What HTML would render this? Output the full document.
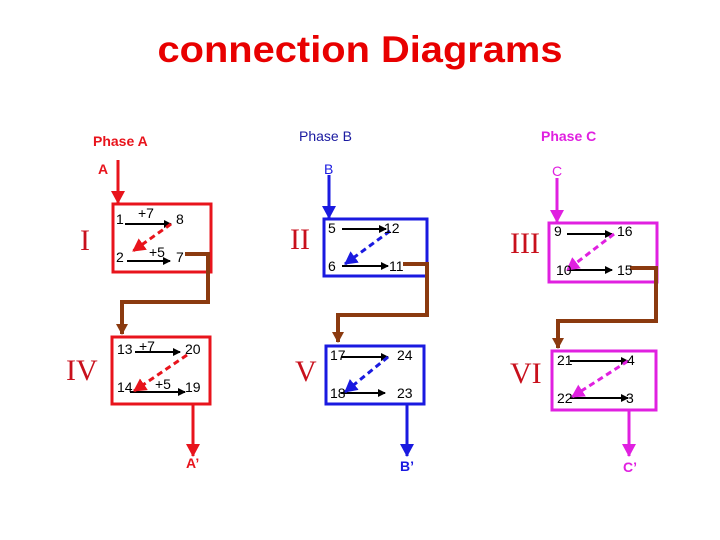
<!DOCTYPE html>
<html><head><meta charset="utf-8"><style>
html,body{margin:0;padding:0;background:#fff;}
svg{display:block;font-family:"Liberation Sans",Arial,sans-serif;}
</style></head><body>
<svg width="720" height="540" viewBox="0 0 720 540" xmlns="http://www.w3.org/2000/svg">
<defs>
<marker id="ab" markerWidth="8" markerHeight="8" refX="7" refY="4" orient="auto" markerUnits="userSpaceOnUse"><path d="M0,0 L8,4 L0,8 Z" fill="#000"/></marker>
<marker id="ar" markerWidth="14" markerHeight="14" refX="12" refY="7" orient="auto" markerUnits="userSpaceOnUse"><path d="M0,0 L13,7 L0,14 Z" fill="#e8141c"/></marker>
<marker id="abl" markerWidth="14" markerHeight="14" refX="12" refY="7" orient="auto" markerUnits="userSpaceOnUse"><path d="M0,0 L13,7 L0,14 Z" fill="#1a1ae0"/></marker>
<marker id="am" markerWidth="14" markerHeight="14" refX="12" refY="7" orient="auto" markerUnits="userSpaceOnUse"><path d="M0,0 L13,7 L0,14 Z" fill="#e020e0"/></marker>
<marker id="abr" markerWidth="12" markerHeight="12" refX="10" refY="6" orient="auto" markerUnits="userSpaceOnUse"><path d="M0,0 L11,6 L0,12 Z" fill="#8b3a0f"/></marker>
</defs>
<text x="360" y="62" text-anchor="middle" font-size="37" font-weight="bold" fill="#e80000" textLength="405" lengthAdjust="spacingAndGlyphs">connection Diagrams</text>

<g font-size="14">
<text x="93" y="146" fill="#e8141c" font-weight="bold">Phase A</text>
<text x="299" y="141" fill="#1a1aa0">Phase B</text>
<text x="541" y="141" fill="#e020e0" font-weight="bold">Phase C</text>
<text x="98" y="174" fill="#e8141c" font-weight="bold">A</text>
<text x="324" y="174" fill="#1a1ae0">B</text>
<text x="552" y="176" fill="#e020e0">C</text>
<text x="186" y="468" fill="#e8141c" font-weight="bold">A’</text>
<text x="400" y="471" fill="#1a1ae0" font-weight="bold">B’</text>
<text x="623" y="472" fill="#e020e0" font-weight="bold">C’</text>
</g>

<g font-family="Liberation Serif,serif" font-size="30" fill="#c8101c">
<text x="80" y="250">I</text>
<text x="290" y="249">II</text>
<text x="510" y="253">III</text>
<text x="66" y="380">IV</text>
<text x="295" y="381">V</text>
<text x="510" y="383">VI</text>
</g>

<!-- boxes -->
<rect x="113" y="204" width="98" height="68" fill="none" stroke="#e8141c" stroke-width="3"/>
<rect x="112" y="337" width="98" height="67" fill="none" stroke="#e8141c" stroke-width="3"/>
<rect x="324" y="219" width="103" height="57" fill="none" stroke="#1a1ae0" stroke-width="3"/>
<rect x="326" y="346" width="98" height="58" fill="none" stroke="#1a1ae0" stroke-width="3"/>
<rect x="549" y="223" width="108" height="59" fill="none" stroke="#e020e0" stroke-width="3"/>
<rect x="552" y="351" width="104" height="59" fill="none" stroke="#e020e0" stroke-width="3"/>

<!-- input/output arrows -->
<g stroke-width="3">
<line x1="118" y1="160" x2="118" y2="203" stroke="#e8141c" marker-end="url(#ar)"/>
<line x1="193" y1="405" x2="193" y2="456" stroke="#e8141c" marker-end="url(#ar)"/>
<line x1="329" y1="175" x2="329" y2="218" stroke="#1a1ae0" marker-end="url(#abl)"/>
<line x1="407" y1="405" x2="407" y2="456" stroke="#1a1ae0" marker-end="url(#abl)"/>
<line x1="557" y1="178" x2="557" y2="222" stroke="#e020e0" marker-end="url(#am)"/>
<line x1="629" y1="411" x2="629" y2="456" stroke="#e020e0" marker-end="url(#am)"/>
</g>

<!-- brown connectors -->
<g fill="none" stroke="#8b3a0f" stroke-width="4">
<polyline points="185,254 208,254 208,302 122,302 122,334" marker-end="url(#abr)"/>
<polyline points="403,264 427,264 427,315 338,315 338,342" marker-end="url(#abr)"/>
<polyline points="630,268 656,268 656,321 558,321 558,348" marker-end="url(#abr)"/>
</g>

<!-- black arrows -->
<g stroke="#000" stroke-width="2" marker-end="url(#ab)">
<line x1="125" y1="224" x2="171" y2="224"/>
<line x1="127" y1="261" x2="170" y2="261"/>
<line x1="135" y1="352" x2="180" y2="352"/>
<line x1="130" y1="392" x2="185" y2="392"/>
<line x1="342" y1="229" x2="386" y2="229"/>
<line x1="342" y1="266" x2="388" y2="266"/>
<line x1="341" y1="357" x2="388" y2="357"/>
<line x1="341" y1="393" x2="385" y2="393"/>
<line x1="567" y1="234" x2="612" y2="234"/>
<line x1="567" y1="270" x2="612" y2="270"/>
<line x1="570" y1="361" x2="628" y2="361"/>
<line x1="570" y1="398" x2="628" y2="398"/>
</g>

<!-- dashed diagonals -->
<g stroke-width="3" stroke-dasharray="6,4">
<line x1="171" y1="224" x2="133" y2="251" stroke="#e8141c" marker-end="url(#ar)"/>
<line x1="187" y1="355" x2="134" y2="391" stroke="#e8141c" marker-end="url(#ar)"/>
<line x1="390" y1="231" x2="345" y2="264" stroke="#1a1ae0" marker-end="url(#abl)"/>
<line x1="388" y1="357" x2="345" y2="392" stroke="#1a1ae0" marker-end="url(#abl)"/>
<line x1="614" y1="234" x2="567" y2="270" stroke="#e020e0" marker-end="url(#am)"/>
<line x1="628" y1="361" x2="572" y2="397" stroke="#e020e0" marker-end="url(#am)"/>
</g>

<!-- numbers -->
<g font-size="14" fill="#000">
<text x="116" y="224">1</text><text x="138" y="218">+7</text><text x="176" y="224">8</text>
<text x="116" y="262">2</text><text x="149" y="257">+5</text><text x="176" y="262">7</text>
<text x="117" y="354">13</text><text x="139" y="351">+7</text><text x="185" y="354">20</text>
<text x="117" y="392">14</text><text x="155" y="389">+5</text><text x="185" y="392">19</text>
<text x="328" y="233">5</text><text x="384" y="233">12</text>
<text x="328" y="271">6</text><text x="389" y="271">11</text>
<text x="330" y="360">17</text><text x="397" y="360">24</text>
<text x="330" y="398">18</text><text x="397" y="398">23</text>
<text x="554" y="236">9</text><text x="617" y="236">16</text>
<text x="556" y="275">10</text><text x="617" y="275">15</text>
<text x="557" y="365">21</text><text x="627" y="365">4</text>
<text x="557" y="403">22</text><text x="626" y="403">3</text>
</g>
</svg>
</body></html>
